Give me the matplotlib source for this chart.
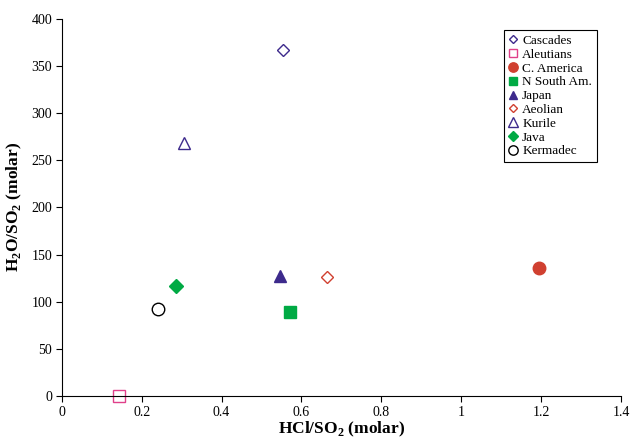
import matplotlib
matplotlib.use('Agg')
import matplotlib.pyplot as plt

plt.rcParams['font.family'] = ['Liberation Serif', 'DejaVu Serif']
plt.rcParams['mathtext.fontset'] = 'custom'
plt.rcParams['mathtext.rm'] = 'Liberation Serif'
plt.rcParams['mathtext.bf'] = 'Liberation Serif:bold'

# data
names = ['Cascades', 'Aleutians', 'C. America', 'N South Am.', 'Japan',
         'Aeolian', 'Kurile', 'Java', 'Kermadec']
hcl_so2 = [0.553, 0.143, 1.195, 0.571, 0.546, 0.664, 0.306, 0.286, 0.240]
h2o_so2 = [367, 0, 136, 89, 127, 126, 268, 117, 92]

markers = ['D', 's', 'o', 's', '^', 'D', '^', 'D', 'o']
colors = ['#3d2a8c', '#e0408a', '#d04030', '#00aa44', '#3d2a8c',
          '#d04030', '#3d2a8c', '#00aa44', 'black']
filled = [False, False, True, True, True, False, False, True, False]
sizes = [6, 8, 9, 8, 8, 6, 9, 7, 9]

fig = plt.figure(figsize=(6.3, 4.4), dpi=100)
ax = fig.add_axes([0.098, 0.1, 0.888, 0.857])

for i in range(len(names)):
    ax.plot(hcl_so2[i], h2o_so2[i], linestyle='none', marker=markers[i],
            markersize=sizes[i], markeredgecolor=colors[i],
            markerfacecolor=colors[i] if filled[i] else 'white',
            markeredgewidth=1.0, label=names[i], clip_on=False)

ax.set_xlim(0, 1.4)
ax.set_ylim(0, 400)
ax.set_xticks([0, 0.2, 0.4, 0.6, 0.8, 1, 1.2, 1.4])
ax.set_xticklabels(['0', '0.2', '0.4', '0.6', '0.8', '1', '1.2', '1.4'])
ax.set_yticks(range(0, 401, 50))
ax.tick_params(labelsize=10, direction='out', length=4, pad=3)
ax.spines['top'].set_visible(False)
ax.spines['right'].set_visible(False)

ax.set_xlabel('HCl/SO$_\\mathbf{2}$ (molar)', fontsize=12.5, fontweight='bold', labelpad=1)
ax.set_ylabel('H$_\\mathbf{2}$O/SO$_\\mathbf{2}$ (molar)', fontsize=12.5, fontweight='bold', labelpad=5)

leg = ax.legend(loc='upper right', bbox_to_anchor=(0.968, 0.988), fontsize=9.5,
                frameon=True, fancybox=False, edgecolor='black', framealpha=1,
                handlelength=0.6, handletextpad=0.4, borderpad=0.35,
                labelspacing=0.12, markerscale=0.75)
leg.get_frame().set_linewidth(0.8)

fig.savefig('out.png', dpi=100)
